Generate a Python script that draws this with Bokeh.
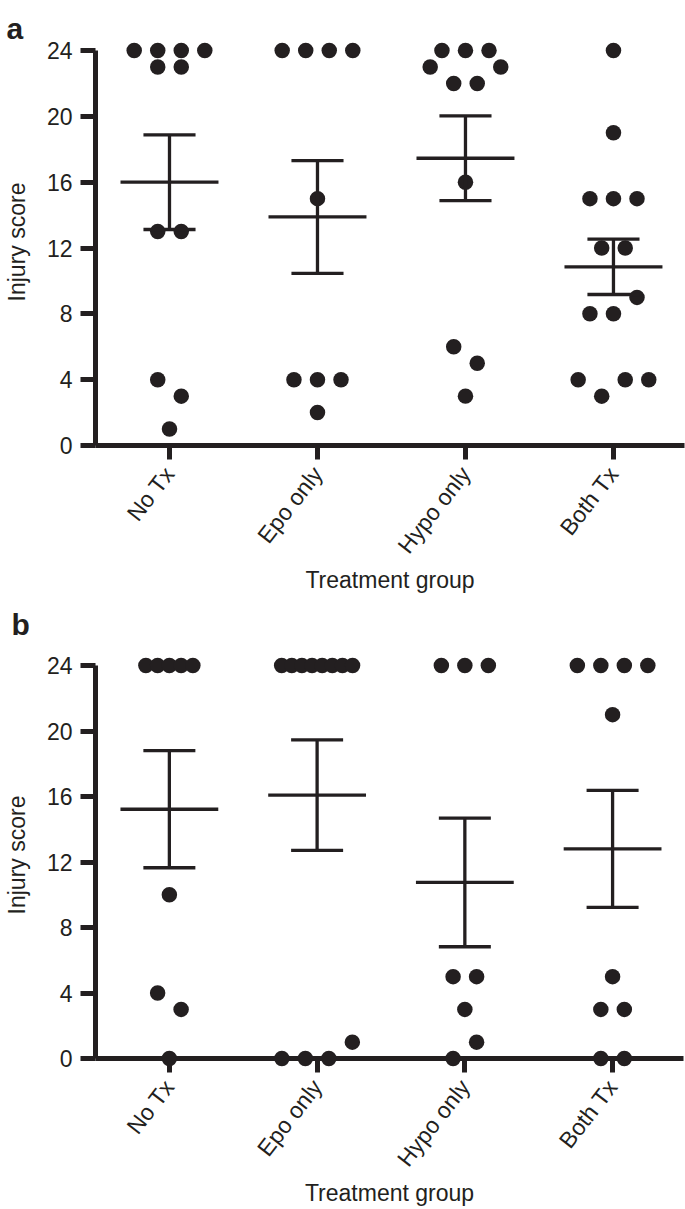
import math
from bokeh.plotting import figure
from bokeh.models import ColumnDataSource, FixedTicker, Range1d
from bokeh.core.properties import value
from bokeh.layouts import column
from bokeh.embed import file_html
from bokeh.resources import INLINE

# ---------------- data ----------------
groups = ["No Tx", "Epo only", "Hypo only", "Both Tx"]
y_ticks = [0, 4, 8, 12, 16, 20, 24]
x_title = "Treatment group"
y_title = "Injury score"

# injury scores, one list per row of dots (top to bottom, left to right; None = empty slot)
a_no_tx = [[24, 24, 24, 24], [23, 23], [13, 13], [4, 3], [1]]
a_epo = [[24, 24, 24, 24], [15], [4, 4, 4], [2]]
a_hypo = [[24, 24, 24], [23, None, None, 23], [22, 22], [16], [6, 5], [3]]
a_both = [[24], [19], [15, 15, 15], [12, 12], [8, 8, 9], [4, 3, 4, 4]]

b_no_tx = [[24, 24, 24, 24, 24], [10], [4, 3], [0]]
b_epo = [[24, 24, 24, 24, 24, 24, 24, 24], [0, 0, 0, 1]]
b_hypo = [[24, 24, 24], [5, 5], [3], [0, 1]]
b_both = [[24, 24, 24, 24], [21], [5], [3, 3], [0, 0]]

# ---------------- style ----------------
INK = "#231f20"
FONT = "Liberation Sans"
FS = "23px"
STEP = 0.159        # horizontal spacing of dots in a row (x units)
MAX_SPAN = 0.48     # max width of a compressed row
DOT = 15.5
MEAN_HW = 0.331
CAP_HW = 0.176
LW = 3.3


def layout_rows(rows, center):
    xs, ys = [], []
    for row in rows:
        k = len(row)
        step = STEP if k <= 4 else min(STEP / 2, MAX_SPAN / (k - 1))
        for i, v in enumerate(row):
            if v is None:
                continue
            xs.append(center + (i - (k - 1) / 2) * step)
            ys.append(v)
    return xs, ys


def mean_sem(rows):
    vals = [v for r in rows for v in r if v is not None]
    n = len(vals)
    m = sum(vals) / n
    sd = math.sqrt(sum((v - m) ** 2 for v in vals) / (n - 1))
    return m, sd / math.sqrt(n)


def make_panel(letter, data, fw, fh, left, right, top, bottom, y_end, lx, ly):
    p = figure(frame_width=fw, frame_height=fh, min_border_left=left, min_border_right=right,
               min_border_top=top, min_border_bottom=bottom,
               x_range=Range1d(0.5, 4.48), y_range=Range1d(0, y_end),
               output_backend="svg", toolbar_location=None, tools="")
    p.outline_line_color = None
    p.grid.visible = False
    p.background_fill_color = "white"
    p.border_fill_color = "white"

    xs, ys = [], []
    x0, y0, x1, y1 = [], [], [], []
    for k, rows in enumerate(data):
        c = k + 1
        gx, gy = layout_rows(rows, c)
        xs += gx
        ys += gy
        m, s = mean_sem(rows)
        x0 += [c - MEAN_HW, c, c - CAP_HW, c - CAP_HW]
        x1 += [c + MEAN_HW, c, c + CAP_HW, c + CAP_HW]
        y0 += [m, m - s, m + s, m - s]
        y1 += [m, m + s, m + s, m - s]

    p.scatter(x="x", y="y", source=ColumnDataSource(dict(x=xs, y=ys)), size=DOT,
              fill_color=INK, line_color=None, level="overlay")
    p.segment(x0="x0", y0="y0", x1="x1", y1="y1",
              source=ColumnDataSource(dict(x0=x0, y0=y0, x1=x1, y1=y1)),
              line_color=INK, line_width=LW, level="overlay")

    for ax in (p.xaxis[0], p.yaxis[0]):
        ax.axis_line_color = INK
        ax.axis_line_width = 5
        ax.major_tick_line_color = INK
        ax.major_tick_line_width = 5
        ax.major_tick_in = 0
        ax.minor_tick_line_color = None
        ax.major_label_text_font = FONT
        ax.major_label_text_font_size = FS
        ax.major_label_text_color = INK
        ax.axis_label_text_font = FONT
        ax.axis_label_text_font_size = FS
        ax.axis_label_text_font_style = "normal"
        ax.axis_label_text_color = INK

    ya = p.yaxis[0]
    ya.ticker = FixedTicker(ticks=y_ticks)
    ya.bounds = (0, 24)
    ya.major_tick_out = 15
    ya.major_label_standoff = 8
    ya.axis_label = y_title
    ya.axis_label_standoff = 14

    xa = p.xaxis[0]
    xa.ticker = FixedTicker(ticks=[i + 1 for i in range(len(groups))])
    xa.major_label_overrides = {i + 1: g for i, g in enumerate(groups)}
    xa.major_label_orientation = 0.91
    xa.major_tick_out = 14
    xa.major_label_standoff = 10
    xa.axis_label = x_title
    xa.axis_label_standoff = -2

    p.text(x=[lx], y=[ly], text=[letter], text_font=value(FONT), text_font_size="30px",
           text_font_style="bold", text_color=INK, text_baseline="alphabetic",
           text_align="left", level="overlay")
    return p


pa = make_panel("a", [a_no_tx, a_epo, a_hypo, a_both], 589, 407, 95, 1, 38, 149, 24.73, -0.101, 25.33)
pb = make_panel("b", [b_no_tx, b_epo, b_hypo, b_both], 588, 407, 90, 7, 55, 153, 24.855, -0.069, 26.5)

layout = column(pa, pb)
open("out.html", "w").write(file_html(layout, INLINE))
